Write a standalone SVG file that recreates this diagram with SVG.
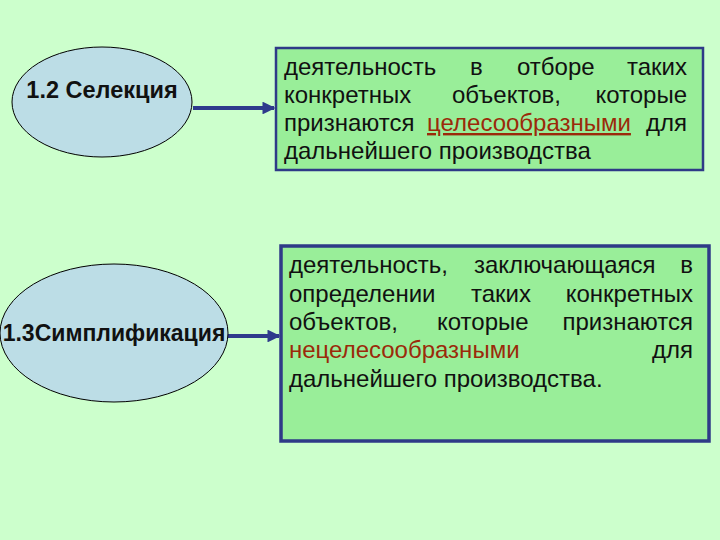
<svg xmlns="http://www.w3.org/2000/svg" width="720" height="540" viewBox="0 0 720 540">
<defs>
<marker id="ah" viewBox="0 0 10 10" refX="9" refY="5" markerWidth="3.2" markerHeight="3.2" orient="auto" markerUnits="strokeWidth">
<path d="M0,0 L10,5 L0,10 z" fill="#2e3a8c"/>
</marker>
<style>
.ell{fill:#bcdde6;stroke:#000;stroke-width:1}
.box{fill:#99ee99;stroke:#2e3a87}
.lbl{font-family:"Liberation Sans",Arial,sans-serif;font-weight:bold;font-size:23.5px;fill:#111;text-anchor:middle}
.t{font-family:"Liberation Sans",Arial,sans-serif;font-size:24px;fill:#111}
.e{text-anchor:end}
.r{fill:#9b2a0a}
.con{stroke:#2e3a8c;stroke-width:4;fill:none;marker-end:url(#ah)}
</style>
</defs>
<rect width="720" height="540" fill="#ccffcc"/>
<g id="connectors">
<line class="con" x1="193" y1="108" x2="274" y2="108"/>
<line class="con" x1="228" y1="336" x2="279" y2="336"/>
</g>
<g id="n1">
<ellipse class="ell" cx="102" cy="102" rx="90" ry="55"/>
<text class="lbl" x="102" y="98">1.2 Селекция</text>
</g>
<g id="n2">
<ellipse class="ell" cx="114" cy="333" rx="114" ry="69"/>
<text class="lbl" x="114" y="341" style="font-size:23px">1.3Симплификация</text>
</g>
<g id="b1">
<rect class="box" x="276" y="48" width="427" height="122" stroke-width="2.5"/>
<text class="t" x="284" y="75">деятельность</text>
<text class="t" x="470" y="75">в</text>
<text class="t" x="517" y="75">отборе</text>
<text class="t e" x="687" y="75">таких</text>
<text class="t" x="284" y="103">конкретных</text>
<text class="t" x="452" y="103">объектов,</text>
<text class="t e" x="687" y="103">которые</text>
<text class="t" x="284" y="131">признаются</text>
<text class="t r" x="427" y="131" text-decoration="underline">целесообразными</text>
<text class="t e" x="687" y="131">для</text>
<text class="t" x="284" y="159">дальнейшего производства</text>
</g>
<g id="b2">
<rect class="box" x="281" y="246" width="428" height="195" stroke-width="3.5"/>
<text class="t" x="289" y="273">деятельность,</text>
<text class="t" x="474" y="273">заключающаяся</text>
<text class="t e" x="693" y="273">в</text>
<text class="t" x="289" y="302">определении</text>
<text class="t" x="471" y="302">таких</text>
<text class="t e" x="693" y="302">конкретных</text>
<text class="t" x="289" y="330">объектов,</text>
<text class="t" x="437" y="330">которые</text>
<text class="t e" x="693" y="330">признаются</text>
<text class="t r" x="289" y="358">нецелесообразными</text>
<text class="t e" x="693" y="358">для</text>
<text class="t" x="289" y="387">дальнейшего производства.</text>
</g>
</svg>
